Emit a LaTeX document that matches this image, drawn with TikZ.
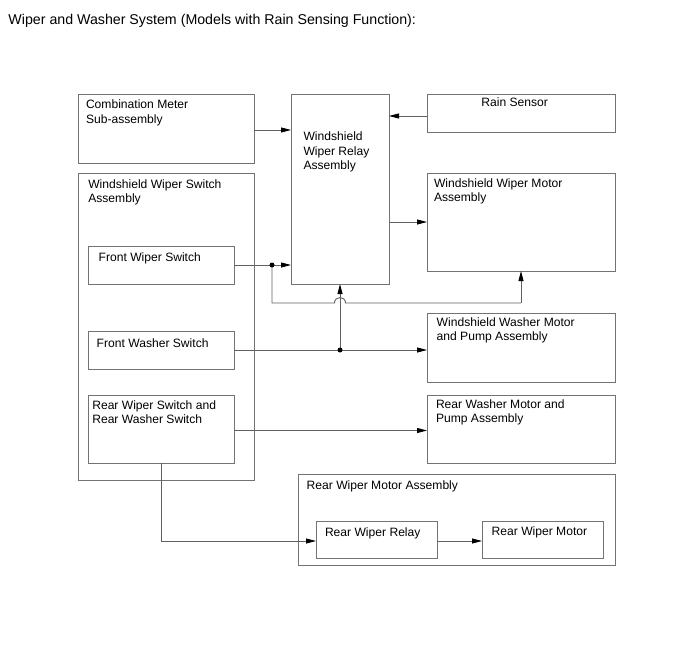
\documentclass[tikz,border=0pt]{standalone}
\usepackage{fontspec}
\setmainfont{Liberation Sans}
\usetikzlibrary{arrows.meta}
\newcommand{\lnB}[2]{\vtop{\baselineskip=14.3pt\hbox{#1}\hbox{#2}}}
\newcommand{\lnC}[3]{\vtop{\baselineskip=14.1pt\hbox{#1}\hbox{#2}\hbox{#3}}}
\begin{document}
\begin{tikzpicture}[x=1pt,y=-1pt,
  box/.style={draw=black!55, line width=0.9pt, inner sep=0pt, outer sep=0pt},
  txt/.style={inner sep=0pt, outer sep=0pt, anchor=base west, font=\fontsize{12.1}{14.3}\selectfont},
  conn/.style={draw=black!62, line width=0.9pt},
  arr/.style={conn, -{Triangle[length=10pt,width=5pt,color=black]}},
  dot/.style={fill=black}]
\useasboundingbox (0,0) rectangle (688,658);
% title
\node[txt, font=\fontsize{14.2}{16}\selectfont] (title) at (8.5,25) {Wiper and Washer System (Models with Rain Sensing Function):};
% boxes
\node[box, minimum width=176pt, minimum height=69pt] (comb) at (166,128.5) {};
\node[box, minimum width=98pt, minimum height=190pt] (relay) at (340,189) {};
\node[box, minimum width=188pt, minimum height=38pt] (rain) at (521,113) {};
\node[box, minimum width=176pt, minimum height=307pt] (wsw) at (166,326.5) {};
\node[box, minimum width=188pt, minimum height=98pt] (wmotor) at (521,222) {};
\node[box, minimum width=146pt, minimum height=38pt] (fwip) at (161,265) {};
\node[box, minimum width=146pt, minimum height=38pt] (fwash) at (161,350) {};
\node[box, minimum width=188pt, minimum height=69pt] (wwash) at (521,347.5) {};
\node[box, minimum width=146pt, minimum height=68pt] (rsw) at (161,429) {};
\node[box, minimum width=188pt, minimum height=68pt] (rwash) at (521,429) {};
\node[box, minimum width=317pt, minimum height=91pt] (rmassy) at (456.5,519.5) {};
\node[box, minimum width=121pt, minimum height=37pt] (rrelay) at (376.5,539.5) {};
\node[box, minimum width=121pt, minimum height=37pt] (rmotor) at (542.5,539.5) {};
% texts
\node[txt] (tcomb) at (86,109) {\lnB{Combination Meter}{Sub-assembly}};
\node[txt] (trelay) at (303.5,141) {\lnC{Windshield}{Wiper Relay}{Assembly}};
\node[txt, anchor=base] (train) at (514.7,107) {Rain Sensor};
\node[txt] (twsw) at (88.3,188) {\lnB{Windshield Wiper Switch}{Assembly}};
\node[txt] (twmotor) at (434,187) {\lnB{Windshield Wiper Motor}{Assembly}};
\node[txt] (tfwip) at (98.7,261.7) {Front Wiper Switch};
\node[txt] (tfwash) at (96.7,347) {Front Washer Switch};
\node[txt] (twwash) at (436.7,326.5) {\lnB{Windshield Washer Motor}{and Pump Assembly}};
\node[txt] (trsw) at (92.3,409.5) {\lnB{Rear Wiper Switch and}{Rear Washer Switch}};
\node[txt] (trwash) at (436,408.5) {\lnB{Rear Washer Motor and}{Pump Assembly}};
\node[txt] (trmassy) at (306.7,489.3) {Rear Wiper Motor Assembly};
\node[txt] (trrelay) at (325,536) {Rear Wiper Relay};
\node[txt] (trmotor) at (491.7,535.5) {Rear Wiper Motor};
% connectors
\coordinate (cm) at ([yshift=-1.5pt]comb.east);
\draw[arr] (cm) -- (cm -| relay.west);
\coordinate (rs) at ([yshift=-3pt]rain.west);
\draw[arr] (rs) -- (rs -| relay.east);
\draw[arr] (relay.east |- wmotor.west) -- (wmotor.west);
% front wiper switch
\coordinate (d1) at (272,265);
\coordinate (jl) at (334.5,303);
\coordinate (jr) at (345.5,303);
\draw[arr] (fwip.east) -- (fwip.east -| relay.west);
\draw[conn] (d1) -- (d1 |- jl) -- (jl) .. controls (334.5,295.7) and (345.5,295.7) .. (jr) -- (jr -| wmotor.south);
\draw[arr] (wmotor.south |- jr) -- (wmotor.south);
\fill[dot] (d1) circle (2.5pt);
% front washer switch
\coordinate (d2) at (relay.south |- fwash.east);
\draw[arr] (fwash.east) -- (fwash.east -| wwash.west);
\draw[arr] (d2) -- (relay.south);
\fill[dot] (d2) circle (2.5pt);
% rear
\coordinate (rw) at ([yshift=-1.5pt]rsw.east);
\draw[arr] (rw) -- (rw -| rwash.west);
\coordinate (rr) at ([yshift=-1.5pt]rrelay.west);
\draw[arr] (rsw.south) |- (rr);
\coordinate (rm) at ([yshift=-1.5pt]rrelay.east);
\draw[arr] (rm) -- (rm -| rmotor.west);
\end{tikzpicture}
\end{document}
